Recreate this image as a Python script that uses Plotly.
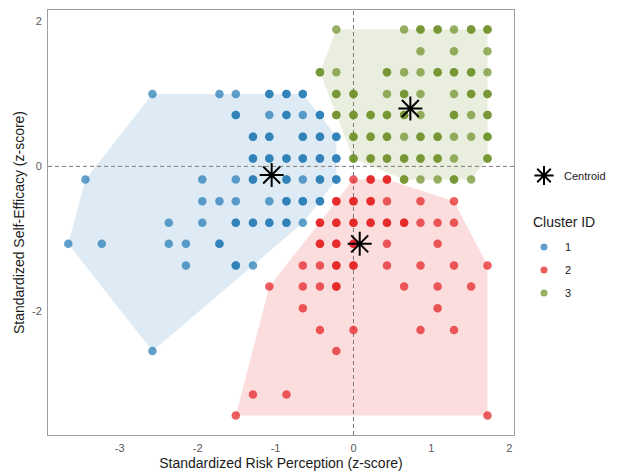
import plotly.graph_objects as go

# ---- data: each point is a response pattern; n = respondents sharing it ----
cluster_ids = ["1", "2", "3"]
cluster_rgb = [(31, 120, 180), (228, 26, 28), (107, 142, 35)]

c1_x = [-2.58, -1.72, -1.51, -1.08, -0.86, -0.65,
        -1.51, -1.08, -0.86, -0.65, -0.43,
        -1.29, -1.08, -0.65, -0.43, -0.22,
        -1.29, -1.08, -0.86, -0.65, -0.43, -0.22,
        -3.44, -1.94, -1.51, -1.29, -0.86, -0.65, -0.43, -0.22,
        -1.94, -1.72, -1.51, -1.08, -0.86, -0.65, -0.43,
        -2.37, -1.94, -1.51, -1.29, -1.08, -0.86, -0.65,
        -3.66, -3.23, -2.37, -2.15, -1.72,
        -2.15, -1.51, -1.29,
        -2.58]
c1_y = [1.00] * 6 + [0.71] * 5 + [0.41] * 5 + [0.11] * 6 + [-0.18] * 8 + \
       [-0.48] * 7 + [-0.78] * 7 + [-1.07] * 5 + [-1.37] * 3 + [-2.55]
c1_n = [1, 1, 1, 2, 2, 2,
        2, 1, 2, 1, 2,
        2, 2, 2, 2, 2,
        2, 2, 2, 2, 2, 2,
        1, 1, 1, 2, 2, 1, 2, 2,
        1, 1, 1, 1, 2, 2, 2,
        1, 1, 2, 2, 2, 2, 1,
        1, 1, 1, 1, 2,
        1, 2, 1,
        1]

c2_x = [0.00, 0.22, 0.43,
        -0.22, 0.00, 0.22, 0.43, 0.86, 1.29,
        -0.43, -0.22, 0.00, 0.22, 0.43, 0.65, 0.86, 1.08, 1.29,
        -0.43, -0.22, 0.00, 0.43, 1.08,
        -0.65, -0.43, -0.22, 0.00, 0.43, 0.86, 1.29, 1.72,
        -1.08, -0.65, -0.43, -0.22, 0.65, 1.08, 1.51,
        -0.65, 1.08,
        -0.43, 0.00, 0.86, 1.29,
        -0.22,
        -1.29, -0.86,
        -1.51, 1.72]
c2_y = [-0.18] * 3 + [-0.48] * 6 + [-0.78] * 9 + [-1.07] * 5 + [-1.37] * 8 + \
       [-1.66] * 7 + [-1.96] * 2 + [-2.26] * 4 + [-2.55] + [-3.15] * 2 + [-3.44] * 2
c2_n = [1, 2, 2,
        2, 2, 2, 1, 1, 1,
        2, 2, 2, 2, 2, 2, 1, 1, 1,
        2, 2, 2, 1, 1,
        1, 1, 2, 2, 1, 1, 1, 1,
        1, 1, 1, 2, 1, 1, 1,
        1, 1,
        1, 1, 1, 1,
        1,
        1, 1,
        1, 1]

c3_x = [-0.22, 0.65, 0.86, 1.08, 1.29, 1.51, 1.72,
        0.86, 1.29, 1.72,
        -0.43, -0.22, 0.43, 0.65, 0.86, 1.08, 1.29, 1.51, 1.72,
        -0.22, 0.00, 0.43, 0.65, 0.86, 1.29, 1.51, 1.72,
        -0.22, 0.00, 0.22, 0.43, 0.65, 0.86, 1.29, 1.51, 1.72,
        0.00, 0.22, 0.43, 0.65, 0.86, 1.08, 1.29, 1.51, 1.72,
        0.00, 0.22, 0.43, 0.65, 0.86, 1.08, 1.29, 1.72,
        0.65, 0.86, 1.08, 1.29, 1.51]
c3_y = [1.89] * 7 + [1.59] * 3 + [1.30] * 9 + [1.00] * 8 + [0.71] * 9 + \
       [0.41] * 9 + [0.11] * 8 + [-0.18] * 5
c3_n = [1, 1, 2, 2, 1, 2, 2,
        1, 1, 1,
        2, 1, 2, 1, 1, 2, 2, 2, 1,
        2, 2, 1, 2, 1, 1, 2, 2,
        2, 2, 2, 2, 2, 1, 2, 1, 2,
        2, 2, 2, 1, 2, 2, 1, 1, 2,
        2, 2, 2, 2, 2, 2, 1, 2,
        2, 1, 1, 2, 1]

centroid_x = [-1.05, 0.08, 0.73]
centroid_y = [-0.12, -1.07, 0.80]

clusters = [(c1_x, c1_y, c1_n), (c2_x, c2_y, c2_n), (c3_x, c3_y, c3_n)]

x_title = "Standardized Risk Perception (z-score)"
y_title = "Standardized Self-Efficacy (z-score)"
x_ticks = [-3, -2, -1, 0, 1, 2]
x_tick_text = ["-3", "-2", "-1", "0", "1", "2"]
y_ticks = [-2, 0, 2]
y_tick_text = ["-2", "0", "2"]
x_limits = [-3.92, 2.06]
y_limits = [-3.71, 2.16]


def convex_hull(xs, ys):
    pts = sorted(set(zip(xs, ys)))

    def cross(o, a, b):
        return (a[0] - o[0]) * (b[1] - o[1]) - (a[1] - o[1]) * (b[0] - o[0])

    lower, upper = [], []
    for p in pts:
        while len(lower) >= 2 and cross(lower[-2], lower[-1], p) <= 0:
            lower.pop()
        lower.append(p)
    for p in reversed(pts):
        while len(upper) >= 2 and cross(upper[-2], upper[-1], p) <= 0:
            upper.pop()
        upper.append(p)
    hull = lower[:-1] + upper[:-1]
    hull.append(hull[0])
    return [p[0] for p in hull], [p[1] for p in hull]


def expand(xs, ys, ns):
    ex, ey = [], []
    for x, y, n in zip(xs, ys, ns):
        ex += [x] * n
        ey += [y] * n
    return ex, ey


def rgba(rgb, a):
    return "rgba(%d,%d,%d,%s)" % (rgb[0], rgb[1], rgb[2], a)


FONT = "Liberation Sans, Arial, sans-serif"
W, H = 623, 473
M_L, M_R, M_T, M_B = 48, 0, 10, 38
PANEL_RIGHT = 514
split = (PANEL_RIGHT - M_L) / (W - M_L - M_R)

fig = go.Figure()

# convex hulls
for (xs, ys, ns), rgb in zip(clusters, cluster_rgb):
    hx, hy = convex_hull(xs, ys)
    fig.add_trace(go.Scatter(x=hx, y=hy, mode="lines", fill="toself",
                             fillcolor=rgba(rgb, 0.15), line=dict(width=0),
                             hoverinfo="skip", showlegend=False))

# reference lines at zero
ref_line = dict(color="#7a7a7a", width=1, dash="4px,3px")
fig.add_trace(go.Scatter(x=[0, 0], y=y_limits, mode="lines", line=ref_line,
                         hoverinfo="skip", showlegend=False))
fig.add_trace(go.Scatter(x=x_limits, y=[0, 0], mode="lines", line=ref_line,
                         hoverinfo="skip", showlegend=False))

# respondents
for (xs, ys, ns), rgb, cid in zip(clusters, cluster_rgb, cluster_ids):
    ex, ey = expand(xs, ys, ns)
    fig.add_trace(go.Scatter(x=ex, y=ey, mode="markers", name=cid,
                             marker=dict(size=8.5, color=rgba(rgb, 1), opacity=0.7,
                                         line=dict(width=0)),
                             showlegend=False))

# k-means centroids
fig.add_trace(go.Scatter(x=centroid_x, y=centroid_y, mode="markers", name="Centroid",
                         marker=dict(symbol="asterisk-open", size=20, color="black",
                                     line=dict(color="black", width=2)),
                         showlegend=False))

# legend drawn on a pixel-scaled side axis
leg_x_sym = 544
leg_items_y = [247, 270, 293]
fig.add_trace(go.Scatter(x=[leg_x_sym], y=[175.5], mode="markers", xaxis="x2", yaxis="y2",
                         marker=dict(symbol="asterisk-open", size=16, color="black",
                                     line=dict(color="black", width=2)),
                         hoverinfo="skip", showlegend=False, cliponaxis=False))
for rgb, yy in zip(cluster_rgb, leg_items_y):
    fig.add_trace(go.Scatter(x=[leg_x_sym], y=[yy], mode="markers", xaxis="x2", yaxis="y2",
                             marker=dict(size=7, color=rgba(rgb, 1), opacity=0.7,
                                         line=dict(width=0)),
                             hoverinfo="skip", showlegend=False, cliponaxis=False))

annotations = [
    dict(x=562, y=175.5, xref="x2", yref="y2", text="Centroid", showarrow=False,
         xanchor="left", yanchor="middle", font=dict(family=FONT, size=11, color="#1a1a1a")),
    dict(x=531, y=222, xref="x2", yref="y2", text="Cluster ID", showarrow=False,
         xanchor="left", yanchor="middle", font=dict(family=FONT, size=14, color="#1a1a1a")),
]
for cid, yy in zip(cluster_ids, leg_items_y):
    annotations.append(dict(x=563, y=yy, xref="x2", yref="y2", text=cid, showarrow=False,
                            xanchor="left", yanchor="middle",
                            font=dict(family=FONT, size=11, color="#1a1a1a")))

axis_common = dict(showgrid=False, zeroline=False, ticks="", showline=True, mirror=True,
                   linecolor="#9e9e9e", linewidth=1,
                   tickfont=dict(family=FONT, size=11, color="#5a5a5a"))

fig.update_layout(
    width=W, height=H,
    margin=dict(l=M_L, r=M_R, t=M_T, b=M_B),
    paper_bgcolor="white", plot_bgcolor="white",
    font=dict(family=FONT),
    xaxis=dict(domain=[0, split], range=x_limits, tickvals=x_ticks, ticktext=x_tick_text,
               ticklabelstandoff=3,
               title=dict(text=x_title, standoff=4,
                          font=dict(family=FONT, size=14, color="#1a1a1a")),
               **axis_common),
    yaxis=dict(domain=[0, 1], range=y_limits, tickvals=y_ticks, ticktext=y_tick_text,
               ticklabelstandoff=3,
               title=dict(text=y_title, standoff=4,
                          font=dict(family=FONT, size=14, color="#1a1a1a")),
               **axis_common),
    xaxis2=dict(domain=[split, 1], range=[PANEL_RIGHT, W], visible=False, anchor="y2"),
    yaxis2=dict(domain=[0, 1], range=[H - M_B, M_T], visible=False, anchor="x2"),
    annotations=annotations,
)

fig.write_html("out.html")
